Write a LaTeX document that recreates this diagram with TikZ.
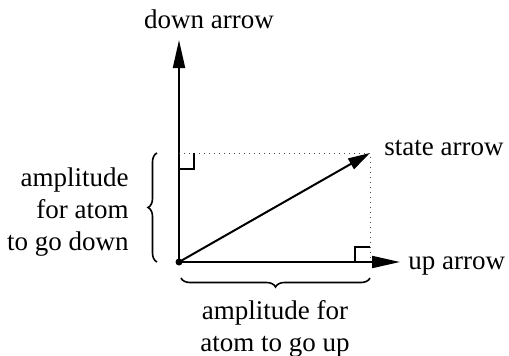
\documentclass[tikz,border=0pt]{standalone}
\usepackage{fontspec}
\setmainfont{Liberation Serif}
\usetikzlibrary{arrows.meta, positioning, decorations.pathreplacing}

\begin{document}
\begin{tikzpicture}[
  x=0.5pt, y=-0.5pt,
  % --- Arrows ---
  axis/.style={-{Triangle[length=14pt, width=6pt]}, line width=1pt},
  statevec/.style={-{Triangle[length=11pt, width=6pt]}, line width=1pt},
  % --- Helper lines ---
  guide/.style={dotted, line width=0.5pt, color=black!70},
  rightangle/.style={line width=0.6pt},
  curly/.style={decorate, line width=0.8pt,
    decoration={brace, amplitude=4.5pt}},
  % --- Labels ---
  lbl/.style={font=\fontsize{13.5}{16}\selectfont, inner sep=0pt},
  dotnode/.style={circle, fill, inner sep=0pt, minimum size=3.5pt},
]
\useasboundingbox (0,0) rectangle (509,355);

% ===================== AXES =====================
\node[dotnode] (o) at (179,262) {};
\coordinate (downtip) at (179,40);
\coordinate (uptip) at (400,262);
\coordinate (state) at (370,153);
\coordinate (ytop) at (179,153);
\coordinate (xend) at (370,262);

\draw[axis] (o.center) -- (downtip);
\draw[axis] (o.center) -- (uptip);
\draw[statevec] (o.center) -- (state);

% ============== PROJECTION GUIDES ==============
\draw[guide] (ytop) -- (state) -- (xend);
\draw[rightangle] (179,169) -- (194,169) -- (194,153);
\draw[rightangle] (355,262) -- (355,247) -- (370,247);

% ===================== LABELS =====================
\node[lbl, anchor=base] (downlbl) at (209,28) {down arrow};
\node[lbl, anchor=base west] (statelbl) at (384,155) {state arrow};
\node[lbl, anchor=base west] (uplbl) at (408,269) {up arrow};

\node[lbl, align=right, anchor=east] (downamp) at (129,212)
  {amplitude\\ for atom\\ to go down};
\node[lbl, align=center, anchor=north] (upamp) at (275,300)
  {amplitude for\\ atom to go up};

% ===================== BRACES =====================
\coordinate (lb1) at (157,262);
\coordinate (lb2) at (157,153);
\coordinate (bb1) at (181,278);
\coordinate (bb2) at (370,278);
\draw[curly] (lb1) -- (lb2);
\draw[curly, decoration={mirror}] (bb1) -- (bb2);

\end{tikzpicture}
\end{document}
